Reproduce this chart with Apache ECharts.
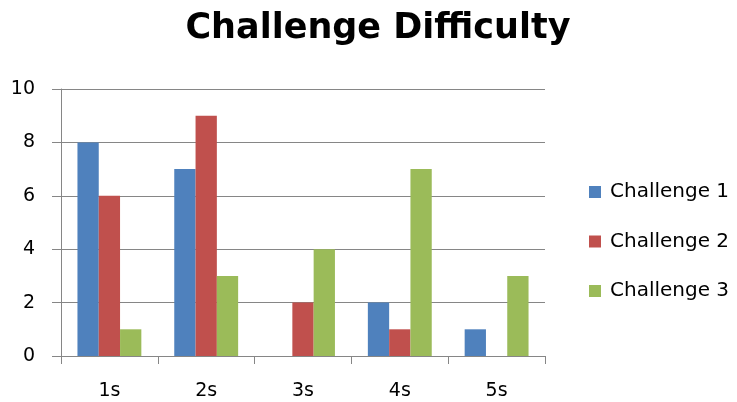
<!DOCTYPE html>
<html>
<head>
<meta charset="utf-8">
<script src="https://cdn.jsdelivr.net/npm/echarts@6/dist/echarts.min.js"></script>
<style>
  html, body { margin: 0; padding: 0; background: #fff; }
  #chart { width: 737px; height: 402px; }
</style>
</head>
<body>
<div id="chart"></div>
<script>
// Difficulty ratings per challenge
const categories = ['1s', '2s', '3s', '4s', '5s'];
const challenge1 = [8, 7, 0, 2, 1];
const challenge2 = [6, 9, 2, 1, 0];
const challenge3 = [1, 3, 4, 7, 3];
const seriesNames = ['Challenge 1', 'Challenge 2', 'Challenge 3'];
const yTicks = [0, 2, 4, 6, 8, 10];

const colors = ['#4F81BD', '#C0504D', '#9BBB59'];
const font = '"DejaVu Sans", "Open Sans", sans-serif';
const axisGray = '#868686';

const chart = echarts.init(document.getElementById('chart'), null, { renderer: 'canvas' });

function bar(name, data, color) {
  return {
    name: name,
    type: 'bar',
    data: data,
    barGap: '0%',
    barCategoryGap: '34%',
    itemStyle: { color: color },
    emphasis: { disabled: true }
  };
}

chart.setOption({
  animation: false,
  color: colors,
  title: {
    text: 'Challenge Difficulty',
    left: 378,
    textAlign: 'center',
    top: 11,
    padding: 0,
    textStyle: { fontFamily: font, fontSize: 35, fontWeight: 'bold', color: '#000' }
  },
  legend: {
    orient: 'vertical',
    left: 584,
    top: 177,
    itemWidth: 12,
    itemHeight: 12,
    itemGap: 29.5,
    icon: 'rect',
    textStyle: { fontFamily: font, fontSize: 20, color: '#000', padding: [0, 0, 0, 4] },
    data: seriesNames
  },
  grid: { left: 61, right: 192, top: 89, bottom: 46, containLabel: false },
  xAxis: {
    type: 'category',
    data: categories,
    axisLine: { lineStyle: { color: axisGray, width: 1 } },
    axisTick: { show: true, length: 8, lineStyle: { color: axisGray } },
    axisLabel: { fontFamily: font, fontSize: 19, color: '#000', margin: 26 }
  },
  yAxis: {
    type: 'value',
    min: yTicks[0],
    max: yTicks[yTicks.length - 1],
    interval: 2,
    axisLine: { show: true, lineStyle: { color: axisGray, width: 1 } },
    axisTick: { show: true, length: 9, lineStyle: { color: axisGray } },
    splitLine: { lineStyle: { color: axisGray, width: 1 } },
    axisLabel: { fontFamily: font, fontSize: 19, color: '#000', margin: 26 }
  },
  series: [
    bar(seriesNames[0], challenge1, colors[0]),
    bar(seriesNames[1], challenge2, colors[1]),
    bar(seriesNames[2], challenge3, colors[2])
  ]
});
</script>
</body>
</html>
